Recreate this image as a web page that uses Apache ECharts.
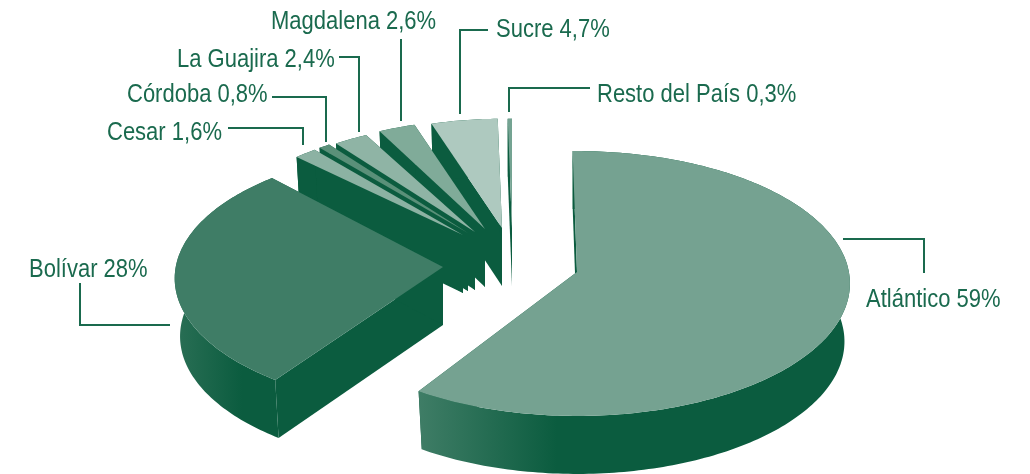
<!DOCTYPE html>
<html>
<head>
<meta charset="utf-8">
<style>
  html, body { margin: 0; background: #fff; }
  #chart { width: 1030px; height: 474px; }
</style>
<script src="https://cdn.jsdelivr.net/npm/echarts@6/dist/echarts.min.js"></script>
</head>
<body>
<div id="chart"></div>
<script>
// datos
const departamentos = ['Atlántico', 'Bolívar', 'Cesar', 'Córdoba', 'La Guajira', 'Magdalena', 'Sucre', 'Resto del País'];
const participacion = [59, 28, 1.6, 0.8, 2.4, 2.6, 4.7, 0.3];

// estilo de cada porción
const topColors = ['#75a291', '#3f7d66', '#8cb2a3', '#5a9079', '#8fb4a5', '#80ab99', '#aec9bf', '#74a392'];
const wallLight = ['#3f7d66', '#2a6f55', null, null, null, null, null, null];
const wallFade = [0.32, 0.65, 0, 0, 0, 0, 0, 0];
const explodeX = [69, -65, -45, -40, -33, -23, -6, 4];
const explodeY = [22, 17, -15, -17, -18, -21, -22, -22];
const radiusScale = [1.007, 0.99, 0.91, 0.91, 0.91, 0.91, 0.91, 0.91];
const angleShift = [0, 3, 0, 0, 0, 1, 1, 1];

const DARK = '#0b5c3f';
const TEXT = '#1a6a4e';
const CX = 508, CY = 250;
const RX = 270, RY = 130.5, PERSP = 0.087, DEPTH = 58, BOTTOM = 0.98, START = -1;

const total = participacion.reduce((a, b) => a + b, 0);
let acum = 0;
const rows = participacion.map((v, i) => {
  const row = [acum, acum + v, i];
  acum += v;
  return row;
});

function project(deg, k, ox, oy) {
  const a = deg * Math.PI / 180;
  const sx = Math.sin(a), cy = -Math.cos(a);
  const w = 1 / (1 - PERSP * cy);
  return [ox + RX * k * sx * w, oy + RY * k * cy * w];
}

function renderSlice(params, api) {
  const i = api.value(2);
  const range = [START + angleShift[i], START + angleShift[i] + 360];
  const a0 = echarts.number.linearMap(api.value(0), [0, total], range);
  const a1 = echarts.number.linearMap(api.value(1), [0, total], range);
  const ox = CX + explodeX[i], oy = CY + explodeY[i], k = radiusScale[i];

  const rim = [];
  const steps = Math.max(2, Math.ceil(a1 - a0));
  for (let s = 0; s <= steps; s++) {
    rim.push(project(a0 + (a1 - a0) * s / steps, k, ox, oy));
  }
  const apex = [ox, oy];
  const first = rim[0], last = rim[rim.length - 1];
  // la base queda un poco más chica que la tapa
  const down = (p) => [ox + (p[0] - ox) * BOTTOM, p[1] + DEPTH];

  const poly = (points, fill) => ({
    type: 'polygon',
    shape: { points },
    style: { fill, stroke: null }
  });

  const wallFill = wallLight[i]
    ? new echarts.graphic.LinearGradient(0, 0, 1, 0, [
        { offset: 0, color: wallLight[i] },
        { offset: wallFade[i], color: DARK },
        { offset: 1, color: DARK }
      ])
    : DARK;

  return {
    type: 'group',
    children: [
      poly([first, apex, down(apex), down(first)], DARK),
      poly([last, apex, down(apex), down(last)], DARK),
      poly(rim.concat(rim.map(down).reverse()), wallFill),
      poly([apex].concat(rim), topColors[i])
    ]
  };
}

// etiquetas y líneas guía
const labelX = [866, 29, 107, 127, 177, 271, 496, 597];
const labelY = [300, 270, 133, 95, 60, 22, 30, 95];
const leaders = [
  [[843, 239], [924, 239], [924, 273]],
  [[80, 283], [80, 325], [170, 325]],
  [[228, 128], [303, 128], [303, 145]],
  [[272, 97], [326, 97], [326, 142]],
  [[339, 57], [359, 57], [359, 132]],
  [[401, 39], [401, 121]],
  [[488, 30], [460, 30], [460, 114]],
  [[590, 88], [509, 88], [509, 112]]
];

const labelText = (i) => departamentos[i] + ' ' + String(participacion[i]).replace('.', ',') + '%';

const graphics = [];
departamentos.forEach((d, i) => {
  graphics.push({
    type: 'polyline',
    shape: { points: leaders[i] },
    style: { stroke: TEXT, lineWidth: 2, fill: null }
  });
  graphics.push({
    type: 'text',
    x: labelX[i],
    y: labelY[i],
    scaleX: 0.88,
    style: {
      text: labelText(i),
      fill: TEXT,
      font: '25px "Liberation Sans", sans-serif',
      textAlign: 'left',
      textVerticalAlign: 'middle'
    }
  });
});

const chart = echarts.init(document.getElementById('chart'));
chart.setOption({
  animation: false,
  backgroundColor: '#fff',
  graphic: graphics,
  series: [
    {
      type: 'custom',
      coordinateSystem: 'none',
      silent: true,
      renderItem: renderSlice,
      // de atrás hacia adelante
      data: rows.slice(2).reverse().concat([rows[1], rows[0]])
    }
  ]
});
</script>
</body>
</html>
